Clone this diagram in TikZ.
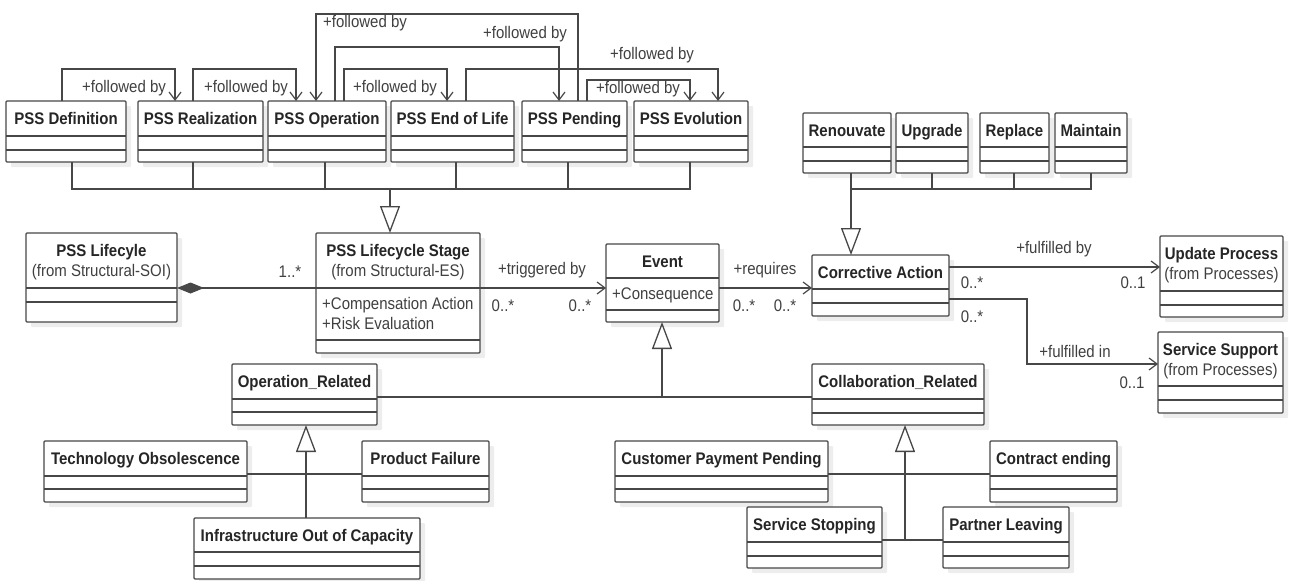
\documentclass[tikz,border=0pt]{standalone}
\usepackage{fontspec}
\setmainfont{Liberation Sans}
\usetikzlibrary{arrows.meta,shadows}
\definecolor{ln}{HTML}{474747}
\definecolor{tx}{HTML}{262626}
\definecolor{lt}{HTML}{404040}
\newcommand\vstr[1]{\scalebox{1}[1.12]{#1}}
\tikzset{
 umlbox/.style={draw=ln, line width=1.3pt, fill=white, inner sep=0pt, outer sep=0pt, rectangle, rounded corners=1pt,
   drop shadow={shadow xshift=5pt, shadow yshift=-5pt, fill=black, opacity=0.07}},
 sepline/.style={draw=ln, line width=1.2pt},
 ttl/.style={text=tx, font=\fontsize{15}{18}\selectfont\bfseries, inner sep=0pt, anchor=base},
 subt/.style={text=lt, font=\fontsize{15}{18}\selectfont, inner sep=0pt, anchor=base},
 attr/.style={text=lt, font=\fontsize{15}{18}\selectfont, inner sep=0pt, anchor=base west},
 lbl/.style={text=lt, font=\fontsize{15}{18}\selectfont, inner sep=0pt, anchor=base},
 link/.style={draw=ln, line width=1.2pt},
 assoc/.style={link, -{Straight Barb[length=8pt,width=12pt]}},
 gen/.style={draw=ln, line width=2.6pt, -{Triangle[open,length=27pt,width=20pt,line width=1.3pt]}},
 comp/.style={link, {Diamond[length=27pt,width=11pt]}-},
}
% frame: name, x1, y1, x2, y2, sep1, sep2
\newcommand\umlframe[7]{%
 \node[umlbox, minimum width={#4-#2}, minimum height={#5-#3}, anchor=north west] (#1) at (#2,#3) {};
 \draw[sepline] (#2,#6) coordinate (#1-h) -- (#4,#6) coordinate (#1-hr);
 \draw[sepline] (#2,#7) -- (#4,#7);
}
\newcommand\umlcls[8]{%
 \umlframe{#1}{#2}{#3}{#4}{#5}{#6}{#7}%
 \node[ttl] (#1-t) at ({(#2+#4)/2},{(#3+#6)/2+6}) {\vstr{#8}};
}
\newcommand\umlclsb[9]{%
 \umlframe{#1}{#2}{#3}{#4}{#5}{#6}{#7}%
 \node[ttl] (#1-t) at ({(#2+#4)/2},{(#3+#6)/2-4}) {\vstr{#8}};
 \node[subt] (#1-u) at ({(#2+#4)/2},{(#3+#6)/2+16}) {\vstr{#9}};
}
\newcommand\lab[4]{\node[lbl] (#1) at (#2,{#3+6}) {\vstr{#4}};}
\begin{document}
\begin{tikzpicture}[x=1pt,y=-1pt]
\useasboundingbox (0,0) rectangle (1291,581);
\fill[white] (0,0) rectangle (1291,581);

% ---- top row of stages
\umlcls{def}{6}{101}{126}{162}{136}{150}{PSS Definition}
\umlcls{real}{138}{101}{263}{162}{136}{150}{PSS Realization}
\umlcls{oper}{268}{101}{386}{162}{136}{150}{PSS Operation}
\umlcls{eol}{391}{101}{514}{162}{136}{150}{PSS End of Life}
\umlcls{pend}{522}{101}{627}{162}{136}{150}{PSS Pending}
\umlcls{evol}{634}{101}{748}{162}{136}{150}{PSS Evolution}

% ---- corrective action kinds
\umlcls{ren}{803}{113}{891}{173}{147}{161}{Renouvate}
\umlcls{upg}{896}{113}{968}{173}{147}{161}{Upgrade}
\umlcls{rep}{980}{113}{1049}{173}{147}{161}{Replace}
\umlcls{mnt}{1055}{113}{1127}{173}{147}{161}{Maintain}

% ---- middle row
\umlclsb{lc}{26}{233}{177}{322}{288}{302}{PSS Lifecyle}{(from Structural-SOI)}
\umlclsb{stage}{316}{233}{480}{353}{288}{340}{PSS Lifecycle Stage}{(from Structural-ES)}
\node[attr] (stage-a1) at (322,309) {\vstr{+Compensation Action}};
\node[attr] (stage-a2) at (322,329) {\vstr{+Risk Evaluation}};
\umlcls{event}{606}{244}{719}{322}{278}{310}{Event}
\node[attr] (event-a1) at (612,299) {\vstr{+Consequence}};
\umlcls{ca}{812}{255}{949}{316}{289}{303}{Corrective Action}
\umlclsb{upd}{1160}{236}{1283}{317}{291}{305}{Update Process}{(from Processes)}
\umlclsb{ss}{1158}{332}{1283}{413}{386}{400}{Service Support}{(from Processes)}

% ---- event kinds
\umlcls{opr}{232}{364}{377}{425}{399}{412}{Operation\_Related}
\umlcls{col}{812}{364}{984}{425}{399}{413}{Collaboration\_Related}
\umlcls{tech}{44}{441}{247}{502}{476}{489}{Technology Obsolescence}
\umlcls{prod}{362}{441}{489}{502}{476}{489}{Product Failure}
\umlcls{infra}{194}{518}{420}{579}{552}{566}{Infrastructure Out of Capacity}
\umlcls{cust}{615}{441}{828}{502}{476}{489}{Customer Payment Pending}
\umlcls{contr}{990}{441}{1117}{502}{476}{489}{Contract ending}
\umlcls{svc}{747}{507}{882}{568}{542}{556}{Service Stopping}
\umlcls{partner}{943}{507}{1069}{568}{542}{556}{Partner Leaving}

% ---- generalization of stages
\coordinate (gj) at (390,189);
\draw[link] ([xshift=66]def.south west) |- (gj);
\draw[link] ([xshift=55]real.south west) |- (gj);
\draw[link] ([xshift=57]oper.south west) |- (gj);
\draw[link] ([xshift=65]eol.south west) |- (gj);
\draw[link] ([xshift=46]pend.south west) |- (gj);
\draw[link] ([xshift=56]evol.south west) |- (gj);
\draw[gen] (gj) -- (gj |- stage.north);

% ---- generalization of corrective actions
\coordinate (gk) at (851,189);
\draw[link] ([xshift=48]ren.south west) |- (gk);
\draw[link] ([xshift=36]upg.south west) |- (gk);
\draw[link] ([xshift=34]rep.south west) |- (gk);
\draw[link] ([xshift=36]mnt.south west) |- (gk);
\draw[gen] (gk) -- (gk |- ca.north);

% ---- followed by
\draw[assoc] ([xshift=56]def.north west) -- ++(0,-32) -| ([xshift=37]real.north west);
\draw[assoc] ([xshift=55]real.north west) -- ++(0,-32) -| ([xshift=28]oper.north west);
\draw[assoc] ([xshift=56]pend.north west) -- ++(0,-87) -| ([xshift=48]oper.north west);
\draw[assoc] ([xshift=67]oper.north west) -- ++(0,-54) -| ([xshift=37]pend.north west);
\draw[assoc] ([xshift=76]oper.north west) -- ++(0,-32) -| ([xshift=56]eol.north west);
\draw[assoc] ([xshift=75]eol.north west) -- ++(0,-32) -| ([xshift=84]evol.north west);
\draw[assoc] ([xshift=65]pend.north west) -- ++(0,-21) -| ([xshift=56]evol.north west);
\lab{f1}{124}{86}{+followed by}
\lab{f2}{246}{86}{+followed by}
\lab{f3}{365}{21}{+followed by}
\lab{f4}{525}{32}{+followed by}
\lab{f5}{395}{86}{+followed by}
\lab{f6}{652}{53}{+followed by}
\lab{f7}{638}{87}{+followed by}

% ---- associations
\draw[comp] (lc-hr) -- (stage-h);
\lab{m1}{290}{271}{1..*}
\draw[assoc] (stage-hr) -- (stage-hr -| event.west);
\lab{a1}{542}{268}{+triggered by}
\lab{m2}{503}{305}{0..*}
\lab{m3}{580}{305}{0..*}
\draw[assoc] (event.east |- stage-hr) -- (ca.west |- stage-hr);
\lab{a2}{765}{268}{+requires}
\lab{m4}{744}{305}{0..*}
\lab{m5}{785}{305}{0..*}

\coordinate (fbs) at ([yshift=-12]ca.north east);
\draw[assoc] (fbs) -- (fbs -| upd.west);
\lab{a3}{1054}{247}{+fulfilled by}
\lab{m6}{972}{282}{0..*}
\lab{m7}{1133}{282}{0..1}
\coordinate (fis) at ([yshift=-44]ca.north east);
\coordinate (fib) at (1027,364);
\draw[assoc] (fis) -| (fib) -- (fib -| ss.west);
\lab{a4}{1075}{351}{+fulfilled in}
\lab{m8}{972}{316}{0..*}
\lab{m9}{1132}{382}{0..1}

% ---- event generalization
\coordinate (ej) at (662,397);
\draw[link] (opr.east |- ej) -- (col.west |- ej);
\draw[gen] (ej) -- (ej |- event.south);

\coordinate (oj) at (306,474);
\draw[link] (tech.east |- oj) -- (prod.west |- oj);
\draw[gen] (oj |- infra.north) -- (oj |- opr.south);

\coordinate (cj) at (905,540);
\coordinate (cj1) at (905,474);
\draw[link] (cust.east |- cj1) -- (contr.west |- cj1);
\draw[link] (svc.east |- cj) -- (partner.west |- cj);
\draw[gen] (cj) -- (cj |- col.south);
\end{tikzpicture}
\end{document}
